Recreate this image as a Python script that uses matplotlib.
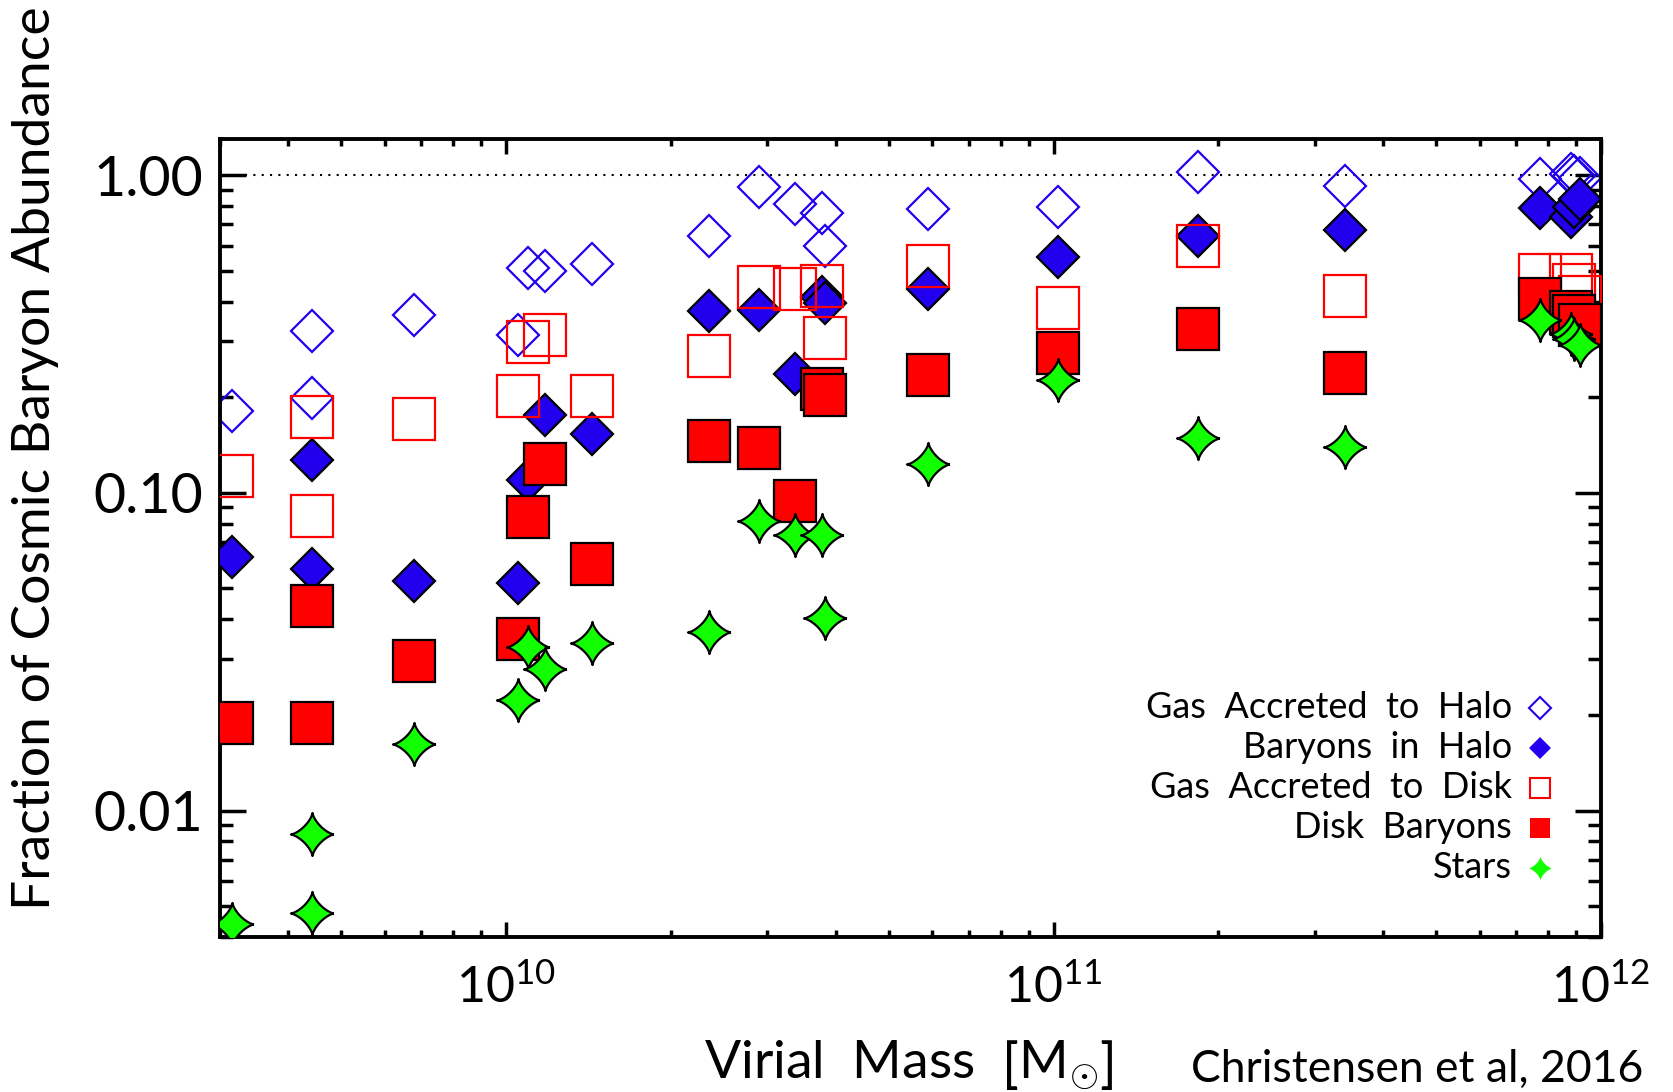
import numpy as np
import matplotlib
matplotlib.use('Agg')
import matplotlib.pyplot as plt
from matplotlib.ticker import LogLocator, FixedLocator, FixedFormatter, NullFormatter

plt.rcParams['font.family'] = ['Lato', 'DejaVu Sans']
plt.rcParams['mathtext.fontset'] = 'custom'
plt.rcParams['mathtext.rm'] = 'Lato'
plt.rcParams['mathtext.it'] = 'Lato:italic'
plt.rcParams['mathtext.bf'] = 'Lato:bold'

# virial mass of each simulated galaxy [Msun]
mvir = [3.16e9, 4.42e9, 4.42e9, 6.78e9, 1.05e10, 1.096e10, 1.179e10, 1.437e10,
        2.35e10, 2.89e10, 3.37e10, 3.78e10, 3.82e10, 5.90e10, 1.02e11,
        1.835e11, 3.41e11, 7.73e11, 8.81e11, 8.93e11, 9.14e11]
# fractions of the cosmic baryon abundance
halo_accr = [0.181, 0.323, 0.199, 0.363, 0.313, 0.511, 0.499, 0.525,
             0.644, 0.915, 0.809, 0.758, 0.598, 0.782, 0.795,
             1.024, 0.924, 0.969, 1.007, 0.990, 0.976]
halo_bary = [0.0626, 0.127, 0.0577, 0.0529, 0.0522, 0.110, 0.176, 0.153,
             0.374, 0.376, 0.237, 0.414, 0.395, 0.438, 0.552,
             0.643, 0.671, 0.786, 0.739, 0.795, 0.839]
disk_accr = [0.113, 0.173, 0.0848, 0.171, 0.201, 0.299, 0.314, 0.201,
             0.270, 0.445, 0.438, 0.449, 0.307, 0.519, 0.381,
             0.599, 0.417, 0.486, 0.485, 0.450, 0.414]
disk_bary = [0.0189, 0.0439, 0.0189, 0.0295, 0.0347, 0.0842, 0.123, 0.0598,
             0.146, 0.138, 0.0939, 0.212, 0.203, 0.2355, 0.276,
             0.328, 0.238, 0.407, 0.370, 0.360, 0.3375]
stars = [0.0044, 0.00845, 0.00477, 0.0162, 0.0223, 0.0326, 0.0278, 0.0337,
         0.0365, 0.0816, 0.0738, 0.0738, 0.0404, 0.123, 0.2266,
         0.1486, 0.139, 0.350, 0.316, 0.305, 0.292]

blue = '#2200ee'
red = '#ff0000'
green = '#11ff00'

# four-pointed sparkle symbol
t = np.linspace(0, 2 * np.pi, 121)
p = 2.8
star4 = list(zip(np.sign(np.cos(t)) * np.abs(np.cos(t)) ** p,
                 np.sign(np.sin(t)) * np.abs(np.sin(t)) ** p))

fig = plt.figure(figsize=(16.73, 10.92), dpi=100)
ax = fig.add_axes([0.1315, 0.142, 0.8255, 0.7308])
ax.set_xscale('log')
ax.set_yscale('log')

ax.axhline(1.0, color='k', lw=1.5, ls=(0, (1, 3)), zorder=1)

ax.plot(mvir, halo_accr, ls='none', marker='D', ms=21.5, mfc='none', mec=blue, mew=1.6, zorder=2)
ax.plot(mvir, halo_bary, ls='none', marker='D', ms=21.5, mfc=blue, mec='k', mew=1.6, zorder=3)
ax.plot(mvir, disk_accr, ls='none', marker='s', ms=30, mfc='none', mec=red, mew=1.6, zorder=4)
ax.plot(mvir, disk_bary, ls='none', marker='s', ms=30, mfc=red, mec='k', mew=1.6, zorder=5)
ax.plot(mvir, stars, ls='none', marker=star4, ms=31, mfc=green, mec='k', mew=1.6, zorder=6)

ax.set_xlim(3.0e9, 1e12)
ax.set_ylim(0.0040, 1.30)

ax.yaxis.set_major_locator(FixedLocator([0.01, 0.1, 1.0]))
ax.yaxis.set_major_formatter(FixedFormatter(['0.01', '0.10', '1.00']))
ax.yaxis.set_minor_locator(LogLocator(base=10, subs=np.arange(2, 10)))
ax.yaxis.set_minor_formatter(NullFormatter())
ax.xaxis.set_minor_locator(LogLocator(base=10, subs=np.arange(2, 10)))
ax.xaxis.set_minor_formatter(NullFormatter())

ax.tick_params(which='both', direction='in', top=True, right=True, width=2.5, colors='k')
ax.tick_params(axis='x', which='major', length=11, labelsize=36, pad=20)
ax.tick_params(axis='x', which='minor', length=5)
ax.tick_params(axis='y', which='major', length=19, labelsize=40, pad=12)
ax.tick_params(axis='y', which='minor', length=9.5)
for s in ax.spines.values():
    s.set_linewidth(2.8)

fig.text(0.021, 0.58, 'Fraction of Cosmic Baryon Abundance', rotation=90,
         ha='center', va='center', fontsize=38.5)
fig.text(0.543, 0.012, r'Virial  Mass  $\left[\mathrm{M}_{\odot}\right]$',
         ha='center', va='baseline', fontsize=38.5)
fig.text(0.982, 0.009, 'Christensen et al, 2016', ha='right', va='baseline', fontsize=32)

# key in the lower right corner, labels right-aligned against the symbols
key = [('Gas  Accreted  to  Halo', dict(marker='D', ms=11, mfc='none', mec=blue, mew=1.5)),
       ('Baryons  in  Halo', dict(marker='D', ms=11, mfc=blue, mec=blue, mew=0)),
       ('Gas  Accreted  to  Disk', dict(marker='s', ms=15, mfc='none', mec=red, mew=1.5)),
       ('Disk  Baryons', dict(marker='s', ms=15, mfc=red, mec=red, mew=0)),
       ('Stars', dict(marker=star4, ms=17, mfc=green, mec=green, mew=0))]
for i, (label, kw) in enumerate(key):
    y = 0.287 - i * 0.05
    ax.text(0.9356, y, label, transform=ax.transAxes, ha='right', va='center', fontsize=26)
    ax.plot([0.956], [y], transform=ax.transAxes, ls='none', clip_on=False, **kw)

fig.savefig('out.png', dpi=100)
